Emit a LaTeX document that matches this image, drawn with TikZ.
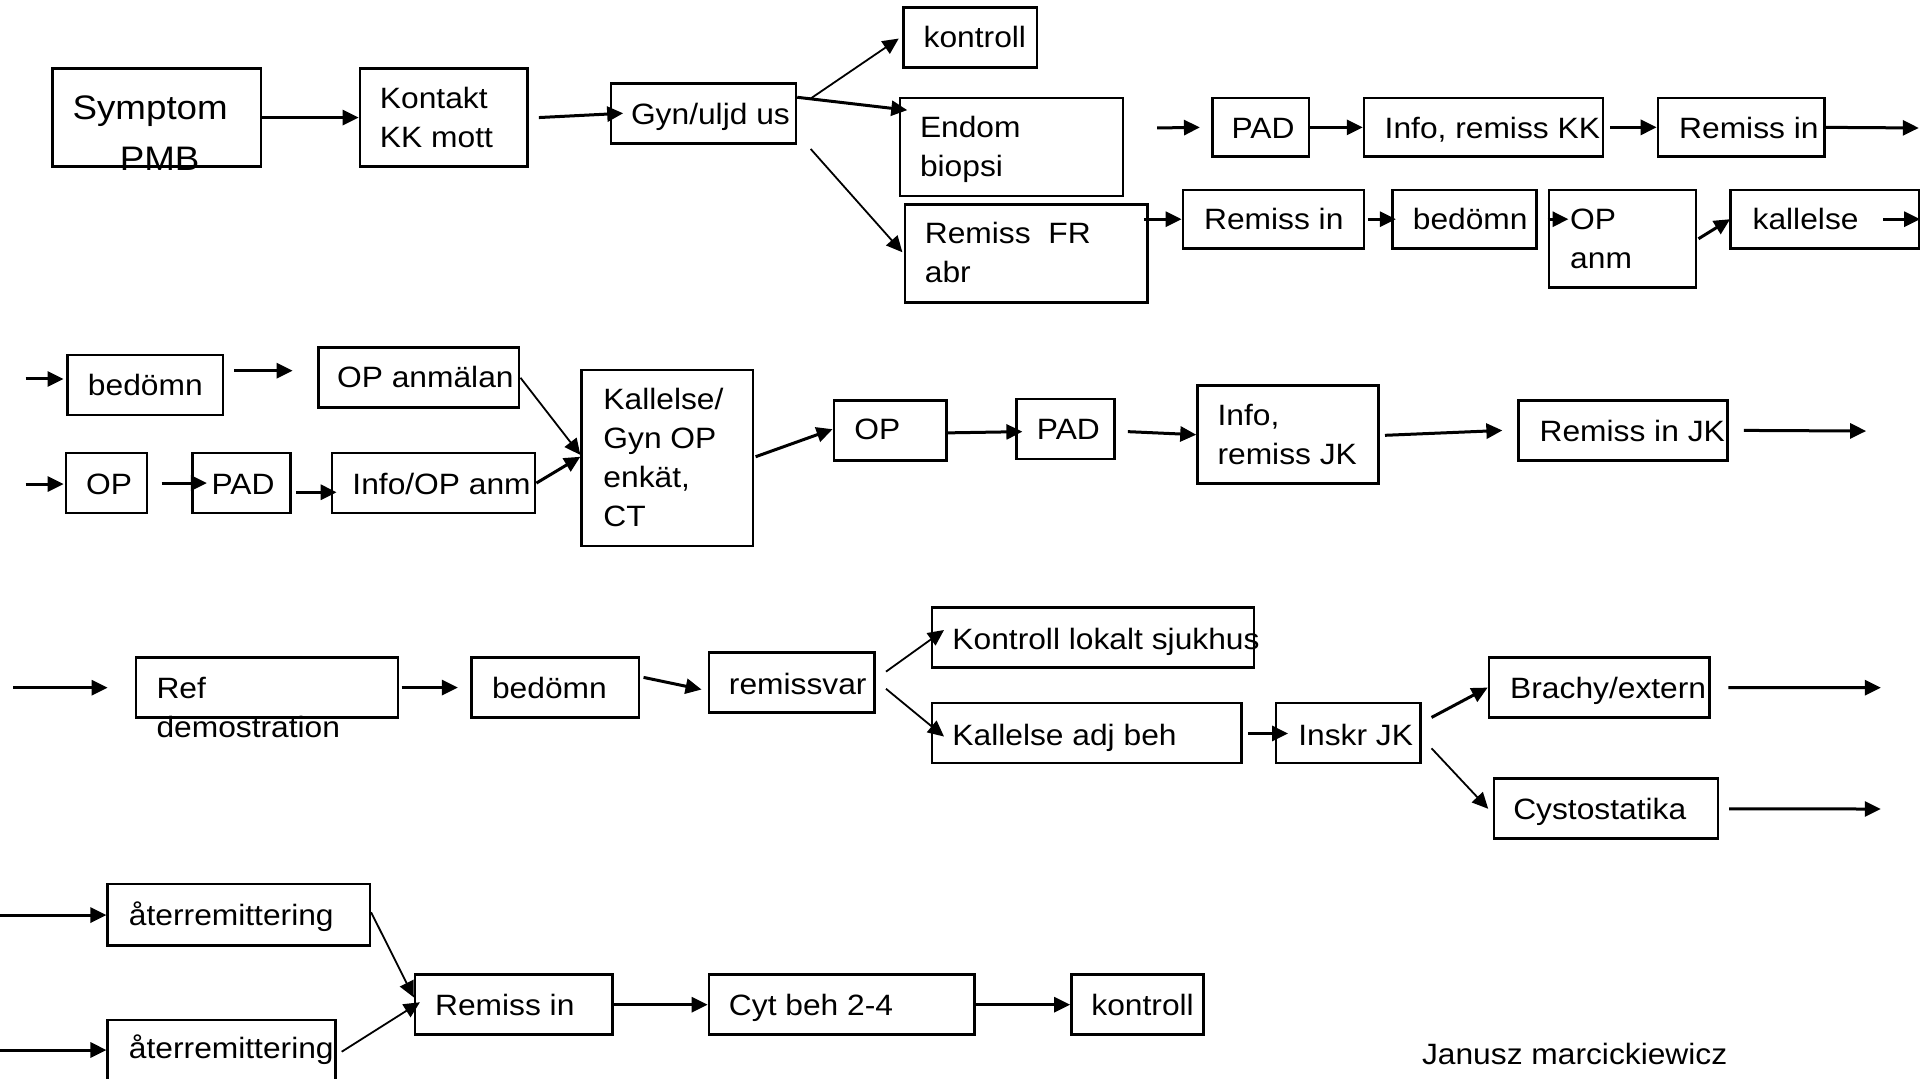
\documentclass[tikz,border=0pt]{standalone}
\usepackage{fontspec}
\setmainfont{Liberation Sans}[FakeStretch=1.08]
\usetikzlibrary{arrows.meta,calc}
\newcommand\fs{\fontsize{14.7pt}{19.5pt}\selectfont}
\newcommand\fsbig{\fontsize{17pt}{25pt}\selectfont}
\newcommand\mybox[5]{\node[bx, minimum width={(#4-#2)*0.61224pt}, minimum height={(#5-#3)*0.61224pt}] (#1) at ({(#2+#4)/2},{(#3+#5)/2}) {};}
\begin{document}
\begin{tikzpicture}[x=0.61224pt, y=-0.61224pt,
  bx/.style={draw, line width=1.3pt, inner sep=0pt},
  tx/.style={anchor=west, inner sep=0pt, font=\fs, text height=10.5pt, text depth=0pt},
  txm/.style={anchor=west, inner sep=0pt, font=\fs, align=left},
  tb/.style={anchor=west, inner sep=0pt, font=\fsbig, text height=12.2pt, text depth=0pt},
  ar/.style={-{Triangle[length=8pt,width=7.5pt]}, line width=1.5pt},
  tar/.style={ar, line width=0.9pt}]
\useasboundingbox (0,0) rectangle (1568,880.4);
\fill[white] (0,0) rectangle (1568,880.4);
\clip (0,0) rectangle (1568,880.4);
% ---------- boxes row 1
\mybox{sym}{43}{56}{213}{136}
\mybox{kon}{294}{56}{431}{136}
\mybox{gyn}{499}{68}{650}{117}
\mybox{ktr}{738}{6}{847}{55}
\mybox{endo}{735}{80}{917}{160}
\mybox{rfr}{739}{167}{937}{247}
\mybox{pad1}{990}{80}{1069}{128}
\mybox{inf1}{1114}{80}{1309}{128}
\mybox{rin1}{1354}{80}{1490}{128}
\mybox{rin2}{966}{155}{1114}{203}
\mybox{bed1}{1137}{155}{1255}{203}
\mybox{opa}{1265}{155}{1385}{235}
\mybox{kal}{1413}{155}{1567}{203}
% ---------- boxes row 2
\mybox{bed2}{55}{290}{182}{339}
\mybox{opan}{260}{284}{424}{333}
\mybox{op2}{54}{370}{120}{419}
\mybox{pad2}{157}{370}{237}{419}
\mybox{iop}{271}{370}{437}{419}
\mybox{kal2}{475}{302}{615}{446}
\mybox{op3}{681}{327}{773}{376}
\mybox{pad3}{830}{326}{910}{375}
\mybox{inf2}{978}{315}{1126}{395}
\mybox{rjk}{1240}{327}{1411}{376}
% ---------- boxes row 3
\mybox{refd}{111}{537}{325}{586}
\mybox{bed3}{385}{537}{522}{586}
\mybox{rv}{579}{533}{714}{582}
\mybox{klok}{761}{496}{1024}{545}
\mybox{kadj}{761}{574}{1014}{623}
\mybox{inskr}{1042}{574}{1160}{623}
\mybox{bra}{1216}{537}{1396}{586}
\mybox{cys}{1220}{636}{1403}{685}
% ---------- boxes row 4
\mybox{at1}{88}{722}{302}{772}
\mybox{at2}{88}{833}{274}{882}
\mybox{rem}{339}{796}{500}{845}
\mybox{cyt}{579}{796}{796}{845}
\mybox{ktr2}{875}{796}{983}{845}
% ---------- texts
\node[tb] (symA) at (59,87.5) {Symptom};
\node[tb] (symB) at (97.5,129.5) {PMB};
\node[txm] (konT) at (310,96) {Kontakt\\KK mott};
\node[tx] (gynT) at (515,93) {Gyn/uljd us};
\node[tx] (ktrT) at (754,30.5) {kontroll};
\node[txm] (endT) at (751,122) {Endom\\biopsi};
\node[txm] (rfrT) at (755,206) {Remiss\ \ FR\\abr};
\node[tx] (pad1T) at (1005.5,104.5) {PAD};
\node[tx] (inf1T) at (1130.5,104.5) {Info, remiss KK};
\node[tx] (rin1T) at (1371,104.5) {Remiss in};
\node[tx] (rin2T) at (983,179) {Remiss in};
\node[tx] (bed1T) at (1153.5,179) {bedömn};
\node[txm] (opaT) at (1282,195) {OP\\anm};
\node[tx] (kalT) at (1431,179) {kallelse};
\node[tx] (bed2T) at (71.5,314) {bedömn};
\node[tx] (opanT) at (275,308) {OP anmälan};
\node[tx] (op2T) at (70,395.5) {OP};
\node[tx] (pad2T) at (172.5,395.5) {PAD};
\node[tx] (iopT) at (287.5,395.5) {Info/OP anm};
\node[txm] (kal2T) at (492.5,374) {Kallelse/\\Gyn OP\\enkät,\\CT};
\node[tx] (op3T) at (697.5,350.5) {OP};
\node[tx] (pad3T) at (846.5,350.5) {PAD};
\node[txm] (inf2T) at (994,354.5) {Info,\\remiss JK};
\node[tx] (rjkT) at (1257,352) {Remiss in JK};
\node[txm] (refT) at (127.5,577.5) {Ref\\demostration};
\node[tx] (bed3T) at (401.5,562) {bedömn};
\node[tx] (rvT) at (595,558.5) {remissvar};
\node[tx] (klokT) at (777.5,522) {Kontroll lokalt sjukhus};
\node[tx] (kadjT) at (777.5,600) {Kallelse adj beh};
\node[tx] (inskrT) at (1060,600) {Inskr JK};
\node[tx] (braT) at (1233,562) {Brachy/extern};
\node[tx] (cysT) at (1235.5,661) {Cystostatika};
\node[tx] (at1T) at (105,747) {återremittering};
\node[tx] (at2T) at (105,856) {återremittering};
\node[tx] (remT) at (355,821) {Remiss in};
\node[tx] (cytT) at (595,821) {Cyt beh 2-4};
\node[tx] (ktr2T) at (891,821) {kontroll};
\node[tx] (jan) at (1161,861) {Janusz marcickiewicz};
% ---------- free coordinates
\coordinate (f1) at (945,104.5);
\coordinate (f2) at (1567,104.5);
\coordinate (f3) at (21,309.5);
\coordinate (f4a) at (191.5,302.7);
\coordinate (f4b) at (239,302.7);
\coordinate (f5) at (21,395.3);
\coordinate (f6) at (1524,352);
\coordinate (f7) at (11,561.6);
\coordinate (f8) at (1536,561.6);
\coordinate (f9) at (1536,660.7);
\coordinate (f10) at (0,747.3);
\coordinate (f11) at (0,857.5);
% ---------- arrows row 1
\draw[ar] (sym.east) -- (kon.west);
\draw[ar] ($(kon.east)+(8,0)$) -- ($(gyn.west)+(11,0)$);
\draw[tar] ($(gyn.north east)+(11,13.5)$) -- ($(ktr.west)+(-3,1)$);
\draw[ar] ($(gyn.north east)+(0,12.5)$) -- ($(endo.north west)+(7,11)$);
\draw[tar] ($(gyn.south east)+(11,3.6)$) -- ($(rfr.west)+(-1,-1)$);
\draw[ar] (f1) -- ($(pad1.west)+(-9,0)$);
\draw[ar] (pad1.east) -- (inf1.west);
\draw[ar] ($(inf1.east)+(5,0)$) -- (rin1.west);
\draw[ar] (rin1.east) -- (f2);
\draw[ar] ($(rfr.east|-rin2.west)+(-4,0)$) -- (rin2.west);
\draw[ar] ($(rin2.east)+(2,0)$) -- ($(bed1.west)+(4,0)$);
\draw[ar] (opa.west|-bed1.east) -- ($(opa.west|-bed1.east)+(17,0)$);
\draw[ar] ($(opa.east)+(1,0)$) -- ($(kal.west)+(1,0)$);
\draw[ar] ($(kal.east)+(-30,0)$) -- (kal.east);
% ---------- arrows row 2
\draw[ar] (f3) -- ($(f3-|bed2.west)+(-2,0)$);
\draw[ar] (f4a) -- (f4b);
\draw[tar] (opan.east) -- ($(kal2.west)+(0,-2.5)$);
\draw[ar] (f5) -- ($(f5-|op2.west)+(-1,0)$);
\draw[ar] ($(op2.east)+(11,0)$) -- ($(pad2.west)+(13,0)$);
\draw[ar] ($(pad2.east)+(4,7.5)$) -- ($(iop.west)+(5,7.5)$);
\draw[ar] (iop.east) -- ($(kal2.west)+(0,-1)$);
\draw[ar] ($(kal2.east)+(1,-1)$) -- ($(op3.west)+(0,-1)$);
\draw[ar] ($(op3.east)+(0,2)$) -- ($(pad3.west)+(6,2)$);
\draw[ar] ($(pad3.east)+(10,2)$) -- (inf2.west);
\draw[ar] ($(inf2.east)+(4,0.5)$) -- ($(rjk.west)+(-12,0)$);
\draw[ar] ($(rjk.east)+(12,0)$) -- (f6);
% ---------- arrows row 3
\draw[ar] (f7) -- ($(f7-|refd.west)+(-22,0)$);
\draw[ar] ($(refd.east)+(2,0)$) -- ($(bed3.west)+(-10,0)$);
\draw[ar] ($(bed3.east)+(2.5,-8.3)$) -- ($(rv.west)+(-5,5.6)$);
\draw[tar] ($(rv.east)+(8.5,-9)$) -- ($(klok.west)+(11,-6)$);
\draw[tar] ($(rv.east)+(8.5,5)$) -- ($(kadj.west)+(11,3)$);
\draw[ar] ($(kadj.east)+(4,0.5)$) -- ($(inskr.west)+(11,0.5)$);
\draw[ar] ($(inskr.east)+(8,-12.6)$) -- (bra.west);
\draw[tar] ($(inskr.east)+(8,12.6)$) -- ($(cys.west)+(-3.6,0)$);
\draw[ar] ($(bra.east)+(14.4,0)$) -- (f8);
\draw[ar] ($(cys.east)+(8,0)$) -- (f9);
% ---------- arrows row 4
\draw[ar] (f10) -- (f10-|at1.west);
\draw[ar] (f11) -- (f11-|at2.west);
\draw[tar] ($(at1.east)+(0,-2)$) -- ($(rem.west)+(0,-6)$);
\draw[tar] ($(at2.east)+(4,1.4)$) -- ($(rem.west)+(5,-2)$);
\draw[ar] (rem.east) -- (cyt.west);
\draw[ar] (cyt.east) -- (ktr2.west);
\end{tikzpicture}
\end{document}
